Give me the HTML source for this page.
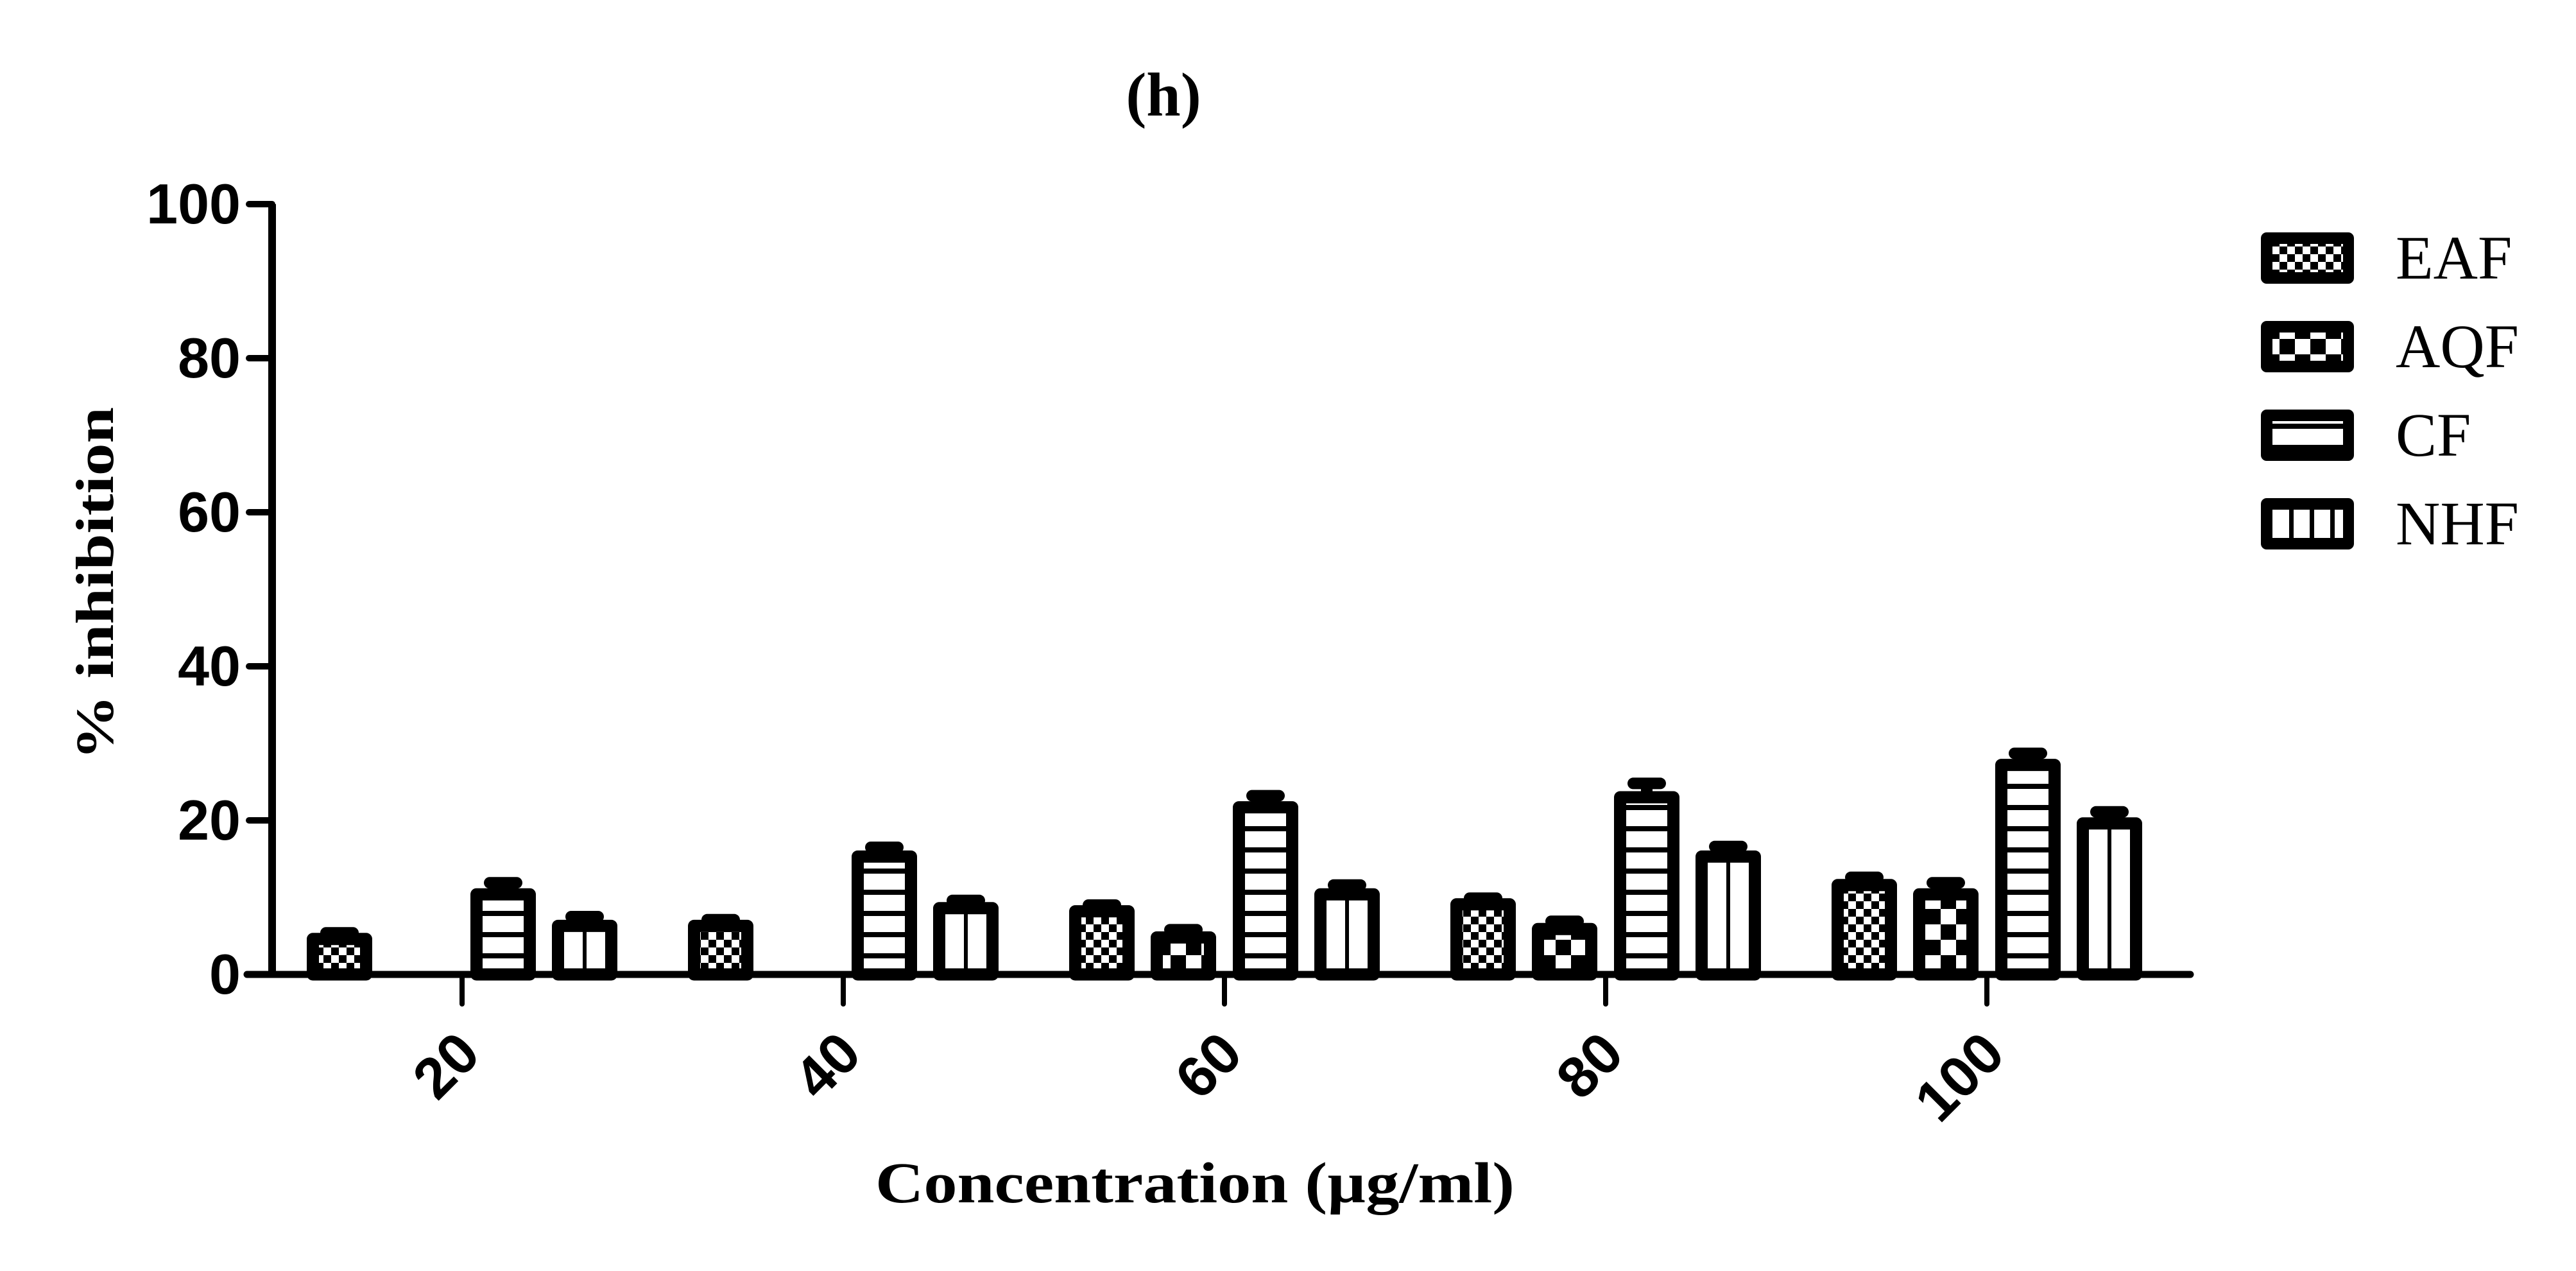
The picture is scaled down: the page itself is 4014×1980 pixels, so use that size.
<!DOCTYPE html>
<html><head><meta charset="utf-8"><style>
html,body{margin:0;padding:0;background:#fff;}
svg{display:block;}
</style></head><body>
<svg id="chart" width="4014" height="1980" viewBox="0 0 4014 1980" xmlns="http://www.w3.org/2000/svg">
<defs>
<pattern id="pat-eaf" patternUnits="userSpaceOnUse" width="24" height="24"><rect width="24" height="24" fill="#fff"/><rect x="0" y="0" width="12" height="12" fill="#000"/><rect x="12" y="12" width="12" height="12" fill="#000"/></pattern>
<pattern id="pat-aqf" patternUnits="userSpaceOnUse" width="48" height="48"><rect width="48" height="48" fill="#fff"/><rect x="0" y="0" width="24" height="24" fill="#000"/><rect x="24" y="24" width="24" height="24" fill="#000"/></pattern>
<pattern id="pat-cf" patternUnits="userSpaceOnUse" width="33" height="33"><rect width="33" height="33" fill="#fff"/><rect x="0" y="0" width="33" height="8" fill="#000"/></pattern>
<pattern id="pat-nhf" patternUnits="userSpaceOnUse" width="33" height="33"><rect width="33" height="33" fill="#fff"/></pattern>
</defs>
<text x="1813" y="180" font-family="Liberation Serif, serif" font-weight="bold" font-size="96" text-anchor="middle">(h)</text>
<g id="plot"></g>
<text transform="translate(176,909) rotate(-90)" font-family="Liberation Serif, serif" font-weight="bold" font-size="84" text-anchor="middle" textLength="550" lengthAdjust="spacingAndGlyphs">% inhibition</text>
<text x="1862" y="1873" font-family="Liberation Serif, serif" font-weight="bold" font-size="90" text-anchor="middle" textLength="996" lengthAdjust="spacingAndGlyphs">Concentration (µg/ml)</text>
<g id="legend"></g>
</svg>
<script>
const categories = ["20","40","60","80","100"];
const seriesNames = ["EAF","AQF","CF","NHF"];
const eafValues = [4.6, 6.3, 8.2, 9.1, 11.6];
const aqfValues = [0, 0, 4.8, 5.9, 10.4];
const cfValues = [10.4, 15.3, 21.7, 23.0, 27.2];
const nhfValues = [6.3, 8.6, 10.4, 15.3, 19.6];
const eafErr = [0.8, 0.8, 0.8, 0.8, 1.0];
const aqfErr = [0, 0, 1.0, 1.0, 1.5];
const cfErr = [1.5, 1.2, 1.5, 1.8, 1.5];
const nhfErr = [1.2, 1.0, 1.2, 1.3, 1.5];
const yTicks = [0, 20, 40, 60, 80, 100];

const NS = "http://www.w3.org/2000/svg";
const X0 = 424, Y0 = 1518, YTOP = 318, XEND = 3413;
function yScale(v){ return Y0 - (v/100)*(Y0-YTOP); }
function xScale(i){ return 720 + i*594; }
const offsets = [-191, -64, 64, 191];
const patterns = ["url(#pat-eaf)","url(#pat-aqf)","url(#pat-cf)","url(#pat-nhf)"];
const allVals = [eafValues, aqfValues, cfValues, nhfValues];
const allErr = [eafErr, aqfErr, cfErr, nhfErr];
function mk(tag, attrs, parent){ const e=document.createElementNS(NS,tag); for(const k in attrs) e.setAttribute(k, attrs[k]); parent.appendChild(e); return e; }
const plot = document.getElementById('plot');

for(let s=0;s<4;s++){
  for(let i=0;i<categories.length;i++){
    const v = allVals[s][i]; if(v<=0) continue;
    const cx = xScale(i)+offsets[s];
    const yt = yScale(v), ye = yScale(v+allErr[s][i]);
    const g = mk('g',{},plot);
    
    
    mk('line',{x1:cx,x2:cx,y1:yt,y2:ye,stroke:'#000','stroke-width':18},g);
    mk('line',{x1:cx-21,x2:cx+21,y1:ye,y2:ye,stroke:'#000','stroke-width':18,'stroke-linecap':'round'},g);
    mk('rect',{x:cx-41.5,y:yt,width:83,height:Y0-yt,fill:patterns[s],stroke:'#000','stroke-width':19,'stroke-linejoin':'round'},g);
    if(s===3) mk('line',{x1:cx,x2:cx,y1:yt+9,y2:Y0,stroke:'#000','stroke-width':6},g);
  }
}
const ya = mk('line',{x1:X0,x2:X0,y1:YTOP,y2:Y0,stroke:'#000','stroke-width':12},plot);


const xa = mk('line',{x1:385,x2:XEND,y1:Y0,y2:Y0,stroke:'#000','stroke-width':11,'stroke-linecap':'round'},plot);


for(const t of yTicks){
  const y=yScale(t);
  const tk = mk('line',{x1:388,x2:X0,y1:y,y2:y,stroke:'#000','stroke-width':10,'stroke-linecap':'round'},plot);
  
  
  const lb = mk('text',{x:375,y:y+30,'font-family':'Liberation Sans, sans-serif','font-weight':'bold','font-size':88,'text-anchor':'end'},plot);
  lb.textContent = t;
  
  
}
for(let i=0;i<categories.length;i++){
  const x=xScale(i);
  const tk = mk('line',{x1:x,x2:x,y1:Y0,y2:1564,stroke:'#000','stroke-width':8,'stroke-linecap':'round'},plot);
  
  
  const lb = mk('text',{transform:'translate('+(x+11)+',1625) rotate(-45)','font-family':'Liberation Sans, sans-serif','font-weight':'bold','font-size':90,'text-anchor':'end','dominant-baseline':'central'},plot);
  lb.textContent = categories[i];
  
  
}
const legend = document.getElementById('legend');


for(let s=0;s<4;s++){
  const y = 362 + s*138;
  const g = mk('g',{},legend);
  
  
  mk('rect',{x:3523,y:y,width:145,height:80,rx:9,fill:'#000'},g);
  mk('rect',{x:3541,y:y+18,width:110,height:44,fill:patterns[s]},g);
  if(s===3){ for(const lx of [3567,3599,3631]) mk('rect',{x:lx,y:y+18,width:7,height:44,fill:'#000'},g); }
  const t = mk('text',{x:3733,y:y+72,'font-family':'Liberation Serif, serif','font-size':96},g);
  t.textContent = seriesNames[s];
}
</script>
</body></html>
